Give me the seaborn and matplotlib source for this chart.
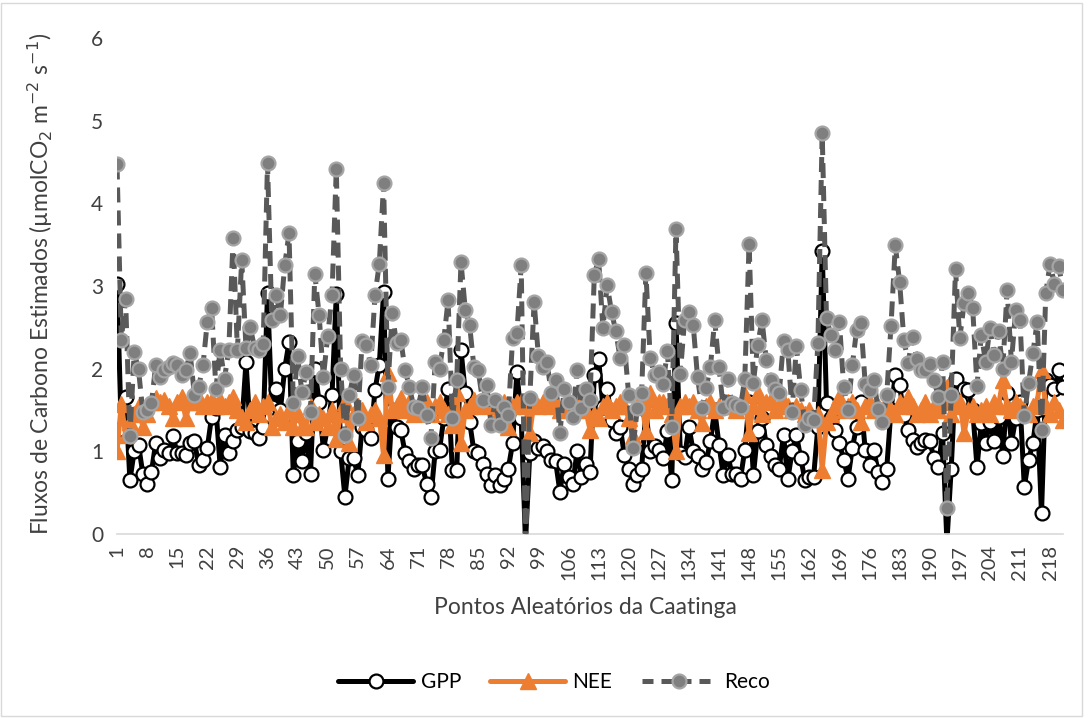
import numpy as np
import pandas as pd
import matplotlib
matplotlib.use("Agg")
import matplotlib.pyplot as plt
import seaborn as sns
from matplotlib.patches import Rectangle
from matplotlib.lines import Line2D

# ---------------- data ----------------
reco = [4.47, 2.35, 2.84, 1.18, 2.2, 1.99, 1.48, 1.5, 1.58, 2.04, 1.9, 1.98, 2.02, 2.07, 2.05, 1.92, 1.98, 2.19, 1.68, 1.78,
        2.04, 2.57, 2.73, 1.76, 2.23, 1.88, 2.23, 3.58, 2.23, 3.32, 2.25, 2.5, 2.25, 2.23, 2.3, 4.49, 2.59, 2.89,
        2.65, 3.25, 3.64, 1.58, 2.15, 1.72, 1.96, 1.48, 3.15, 2.65, 1.9, 2.39, 2.89, 4.42, 2.0, 1.2, 1.68, 1.92, 1.4, 2.33,
        2.29, 2.04, 2.89, 3.27, 4.24, 1.78, 2.67, 2.31, 2.35, 1.98, 1.78, 1.54, 1.52, 1.78, 1.44, 1.16, 2.08, 2.0, 2.35, 2.83,
        1.40, 1.86, 3.29, 2.71, 2.53, 2.02, 1.98, 1.62, 1.80, 1.32, 1.62, 1.32, 1.54, 1.44, 2.37, 2.43, 3.25, -0.2, 1.64, 2.81,
        2.15, 2.02, 2.08, 1.70, 1.86, 1.22, 1.76, 1.60, 1.42, 1.98, 1.52, 1.76, 1.62, 3.13, 3.33, 2.49, 3.01, 2.69, 2.45, 2.13,
        2.29, 1.68, 1.04, 1.52, 1.70, 3.16, 2.13, 1.92, 1.96, 1.82, 2.21, 1.30, 3.69, 1.94, 2.59, 2.68, 2.53, 1.90, 1.52, 1.77,
        2.02, 2.59, 2.02, 1.52, 1.87, 1.58, 1.56, 1.54, 1.88, 3.51, 1.83, 2.29, 2.59, 2.10, 1.86, 1.76, 1.70, 2.33, 2.23, 1.48,
        2.27, 1.74, 1.32, 1.40, 1.38, 2.31, 4.85, 2.61, 2.41, 2.23, 2.57, 1.78, 1.50, 2.04, 2.47, 2.55, 1.82, 1.74, 1.86, 1.51,
        1.36, 1.68, 2.52, 3.49, 3.05, 2.35, 2.07, 2.38, 2.12,
        1.98, 1.98, 2.06, 1.86, 1.66, 2.08, 0.31, 1.68, 3.20, 2.37, 2.79, 2.92, 2.73, 1.79, 2.41, 2.08, 2.49, 2.17, 2.45, 2.0,
        2.95, 2.08, 2.71, 2.59, 1.43, 1.83, 2.19, 2.57, 1.26, 2.92, 3.27, 3.03, 3.24, 2.95]

gpp = [3.03, 1.27, 1.66, 0.65, 1.0, 1.08, 0.73, 0.61, 0.75, 1.10, 0.92, 1.02, 0.98, 1.18, 0.98, 0.98, 0.96, 1.10, 1.12, 0.83,
       0.90, 1.04, 1.42, 1.52, 0.81, 1.20, 0.98, 1.12, 1.26, 1.30, 2.08, 1.24, 1.22, 1.16, 1.30, 2.91, 1.54, 1.76,
       1.50, 2.0, 2.32, 0.71, 1.12, 0.88, 1.22, 0.73, 2.0, 1.60, 1.02, 1.30, 1.68, 2.90, 1.0, 0.45, 0.92, 0.92, 0.71, 1.30,
       1.26, 1.16, 1.74, 2.05, 2.93, 0.67, 1.50, 1.30, 1.26, 0.98, 0.88, 0.79, 0.83, 0.83, 0.61, 0.45, 1.0, 1.02, 1.40, 1.76,
       0.77, 0.77, 2.23, 1.70, 1.36, 1.0, 0.98, 0.85, 0.73, 0.59, 0.71, 0.59, 0.67, 0.79, 1.1, 1.96, 1.40, -0.1, 0.98, 1.12,
       1.04, 1.06, 1.0, 0.90, 0.88, 0.51, 0.85, 0.69, 0.61, 1.0, 0.69, 0.85, 0.75, 1.92, 2.12, 1.54, 1.76, 1.38, 1.22, 1.30,
       0.95, 0.79, 0.61, 0.71, 0.79, 1.5, 1.0, 1.06, 1.02, 0.92, 1.24, 0.65, 2.55, 0.98, 0.93, 1.3, 1.0, 0.94, 0.79, 0.87,
       1.12, 1.5, 1.08, 0.71, 0.96, 0.73, 0.73, 0.67, 1.02, 1.6, 0.71, 1.24, 1.4, 1.08, 0.94, 0.83, 0.79, 1.2, 0.66, 1.0,
       1.2, 0.92, 0.65, 0.69, 0.69, 1.3, 3.42, 1.58, 1.4, 1.26, 1.1, 0.90, 0.67, 1.04, 1.3, 1.60, 1.02, 0.83, 1.02, 0.75,
       0.63, 0.79, 1.5, 1.92, 1.80, 1.44, 1.26, 1.14, 1.05,
       1.1, 1.14, 1.12, 0.92, 0.81, 1.22, -0.1, 0.79, 1.88, 1.6, 1.76, 1.74, 1.5, 0.81, 1.34, 1.10, 1.36, 1.12, 1.42, 0.94,
       1.70, 1.10, 1.4, 1.6, 0.57, 0.90, 1.10, 1.5, 0.25, 1.86, 1.8, 1.76, 1.98, 1.78]

nee = [1.0, 1.57, 1.2, 1.35, 1.45, 1.55, 1.3, 1.45, 1.6, 1.65, 1.6, 1.62, 1.55, 1.4, 1.6, 1.66, 1.4, 1.6, 1.6, 1.65,
       1.55, 1.6, 1.62, 1.55, 1.62, 1.55, 1.6, 1.66, 1.5, 1.42, 1.35, 1.5, 1.6, 1.45, 1.55, 1.6, 1.3, 1.4,
       1.45, 1.35, 1.5, 1.3, 1.45, 1.3, 1.3, 1.55, 1.35, 1.45, 1.4, 1.3, 1.5, 1.15, 1.45, 1.6, 1.1, 1.45, 1.55, 1.5,
       1.35, 1.45, 1.5, 1.4, 0.95, 1.95, 1.5, 1.55, 1.65, 1.5, 1.6, 1.45, 1.55, 1.5, 1.6, 1.45, 1.55, 1.6, 1.5, 1.45,
       1.32, 1.7, 1.1, 1.5, 1.55, 1.62, 1.6, 1.55, 1.65, 1.6, 1.55, 1.5, 1.6, 1.3, 1.55, 1.6, 1.6, 1.55, 1.22, 1.6,
       1.55, 1.6, 1.6, 1.55, 1.6, 1.5, 1.55, 1.6, 1.55, 1.6, 1.55, 1.5, 1.26, 1.45, 1.4, 1.55, 1.6, 1.5, 1.55, 1.6,
       1.55, 1.4, 1.18, 1.55, 1.6, 1.24, 1.7, 1.5, 1.6, 1.6, 1.55, 1.45, 1.0, 1.55, 1.6, 1.55, 1.6, 1.5, 1.34, 1.55,
       1.6, 1.5, 1.55, 1.55, 1.6, 1.55, 1.5, 1.55, 1.68, 1.22, 1.55, 1.7, 1.45, 1.6, 1.62, 1.5, 1.55, 1.6, 1.55, 1.5,
       1.55, 1.5, 1.45, 1.5, 1.4, 1.45, 0.78, 1.35, 1.45, 1.55, 1.66, 1.5, 1.55, 1.6, 1.5, 1.36, 1.55, 1.6, 1.5, 1.55,
       1.5, 1.55, 1.5, 1.45, 1.6, 1.55, 1.66, 1.55, 1.45,
       1.5, 1.6, 1.45, 1.55, 1.5, 1.6, 1.78, 1.45, 1.55, 1.6, 1.22, 1.5, 1.55, 1.45, 1.5, 1.55, 1.45, 1.6, 1.55, 1.86,
       1.55, 1.5, 1.6, 1.55, 1.5, 1.45, 1.55, 1.6, 1.98, 1.55, 1.45, 1.6, 1.5, 1.38]

n_points = len(reco)
points = list(range(1, n_points + 1))
xtick_labels = [str(v) for v in range(1, n_points + 1, 7)]
ytick_values = [0, 1, 2, 3, 4, 5, 6]
series_names = ["GPP", "NEE", "Reco"]

# ---------------- figure ----------------
sns.set_theme(style="white")
plt.rcParams['font.family'] = ['Lato', 'DejaVu Sans']

W, H = 1089, 718
fig = plt.figure(figsize=(W / 100, H / 100), dpi=100)
ax = fig.add_axes([117 / W, 1 - 534 / H, (1063 - 117) / W, (534 - 38) / H])

df = pd.DataFrame({"Ponto": points, "GPP": gpp, "NEE": nee, "Reco": reco})

LW = 3.6
MS = 10
sns.lineplot(data=df, x="Ponto", y="GPP", ax=ax, color="black", linewidth=LW,
             marker="o", markersize=MS, markerfacecolor="white", markeredgecolor="black",
             markeredgewidth=1.6, zorder=2)
sns.lineplot(data=df, x="Ponto", y="NEE", ax=ax, color="#ED7D31", linewidth=LW,
             marker="^", markersize=MS + 1, markerfacecolor="#ED7D31", markeredgecolor="#ED7D31",
             markeredgewidth=1, zorder=3)
sns.lineplot(data=df, x="Ponto", y="Reco", ax=ax, color="#595959", linewidth=LW,
             linestyle=(0, (3, 1.6)),
             marker="o", markersize=MS, markerfacecolor="#7F7F7F", markeredgecolor="#A5A5A5",
             markeredgewidth=1.6, zorder=4)

ax.set_xlim(1, n_points)
ax.set_ylim(0, 6)
ax.set_yticks(ytick_values)
ax.set_yticklabels([str(v) for v in ytick_values], fontsize=15, color="#404040")
ax.set_xticks(list(range(1, n_points + 1, 7)))
ax.set_xticklabels(xtick_labels, rotation=90, fontsize=14.5, color="#404040")
ax.tick_params(axis="both", length=0)
ax.tick_params(axis="y", pad=10)
ax.tick_params(axis="x", pad=8)
ax.set_xlabel("")
ax.set_ylabel("")
for s in ["top", "right", "left"]:
    ax.spines[s].set_visible(False)
ax.spines["bottom"].set_color("#D9D9D9")
ax.spines["bottom"].set_linewidth(1.2)
ax.grid(False)

fig.text(40 / W, 1 - 284 / H,
         "Fluxos de Carbono Estimados (µmolCO$_2$ m$^{-2}$ s$^{-1}$)",
         rotation=90, ha="center", va="center", fontsize=16.5, color="#404040")
fig.text(585 / W, 1 - 607 / H, "Pontos Aleatórios da Caatinga",
         ha="center", va="center", fontsize=16.5, color="#404040")

handles = [
    Line2D([0], [0], color="black", linewidth=LW, marker="o", markersize=MS,
           markerfacecolor="white", markeredgecolor="black", markeredgewidth=1.6),
    Line2D([0], [0], color="#ED7D31", linewidth=LW, marker="^", markersize=MS + 1,
           markerfacecolor="#ED7D31", markeredgecolor="#ED7D31"),
    Line2D([0], [0], color="#595959", linewidth=LW, linestyle=(0, (2.2, 1.6)), marker="o",
           markersize=MS, markerfacecolor="#7F7F7F", markeredgecolor="#A5A5A5", markeredgewidth=1.6),
]
fig.legend(handles, series_names, loc="center", bbox_to_anchor=(554 / W, 1 - 682 / H),
           ncol=3, frameon=False, fontsize=15, handlelength=3.6, columnspacing=1.4,
           handletextpad=0.35, labelcolor="black")

fig.add_artist(Rectangle((1 / W, 2 / H), 1081 / W, 713 / H, transform=fig.transFigure,
                         fill=False, edgecolor="#D9D9D9", linewidth=1))

fig.savefig("out.png", dpi=100)
